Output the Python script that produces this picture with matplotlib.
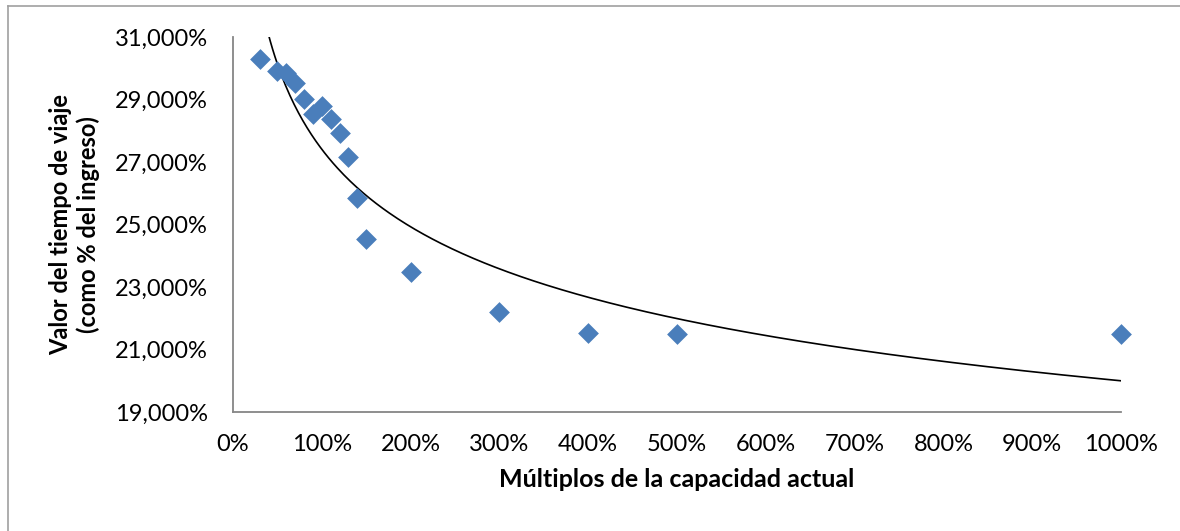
import numpy as np
import matplotlib
matplotlib.use("Agg")
import matplotlib.pyplot as plt
from matplotlib.lines import Line2D
from matplotlib.ticker import FuncFormatter

plt.rcParams['font.family'] = ['Lato', 'DejaVu Sans']

# multiples of current capacity (1.0 = 100%)
capacity = [0.3, 0.5, 0.6, 0.7, 0.8, 0.9, 1.0, 1.1, 1.2, 1.3, 1.4, 1.5, 2, 3, 4, 5, 10]
# value of travel time, % of income
value_tt = [30.30, 29.92, 29.86, 29.52, 29.02, 28.54, 28.79, 28.37, 27.92, 27.17,
            25.86, 24.54, 23.49, 22.20, 21.52, 21.49, 21.50]

xticks = [0, 1, 2, 3, 4, 5, 6, 7, 8, 9, 10]
yticks = [19, 21, 23, 25, 27, 29, 31]

x = np.array(capacity)
y = np.array(value_tt)

# power trendline, like excel
c, lnb = np.polyfit(np.log(x), np.log(y), 1)
xf = np.linspace(x.min(), x.max(), 400)
yf = np.exp(lnb) * xf**c

fig = plt.figure(figsize=(11.8, 5.31), dpi=100)
ax = fig.add_axes([233/1180, 1 - 412/531, 888/1180, 375/531])

ax.plot(xf, yf, color='black', lw=1.2, zorder=2)
ax.scatter(x, y, marker='D', s=112, color='#4A7EBB', linewidths=0, zorder=3, clip_on=False)

ax.set_xlim(0, 10)
ax.set_ylim(19, 31)
ax.set_xticks(xticks)
ax.set_yticks(yticks)
ax.xaxis.set_major_formatter(FuncFormatter(lambda v, p: f"{int(round(v*100))}%"))
ax.yaxis.set_major_formatter(FuncFormatter(lambda v, p: f"{v:.3f}".replace('.', ',') + "%"))
ax.tick_params(axis='both', length=0, labelsize=17, colors='black')
ax.tick_params(axis='x', pad=16)
ax.tick_params(axis='y', pad=18)

for s in ['top', 'right']:
    ax.spines[s].set_visible(False)
for s in ['left', 'bottom']:
    ax.spines[s].set_color('#868686')
    ax.spines[s].set_linewidth(1.3)

ax.set_xlabel("Múltiplos de la capacidad actual", fontsize=18, fontweight='bold', labelpad=9)
ax.set_ylabel("Valor del tiempo de viaje\n(como % del ingreso)", fontsize=17,
              fontweight='bold', linespacing=1.2)
ax.yaxis.set_label_coords(-0.15, 0.5)

# chart area border (only left and top visible)
fig.add_artist(Line2D([8/1180, 8/1180], [0, 1 - 6/531], transform=fig.transFigure,
                      color='#A0A0A0', lw=1.2))
fig.add_artist(Line2D([8/1180, 1], [1 - 6/531, 1 - 6/531], transform=fig.transFigure,
                      color='#A0A0A0', lw=1.2))

fig.savefig("out.png", dpi=100)
